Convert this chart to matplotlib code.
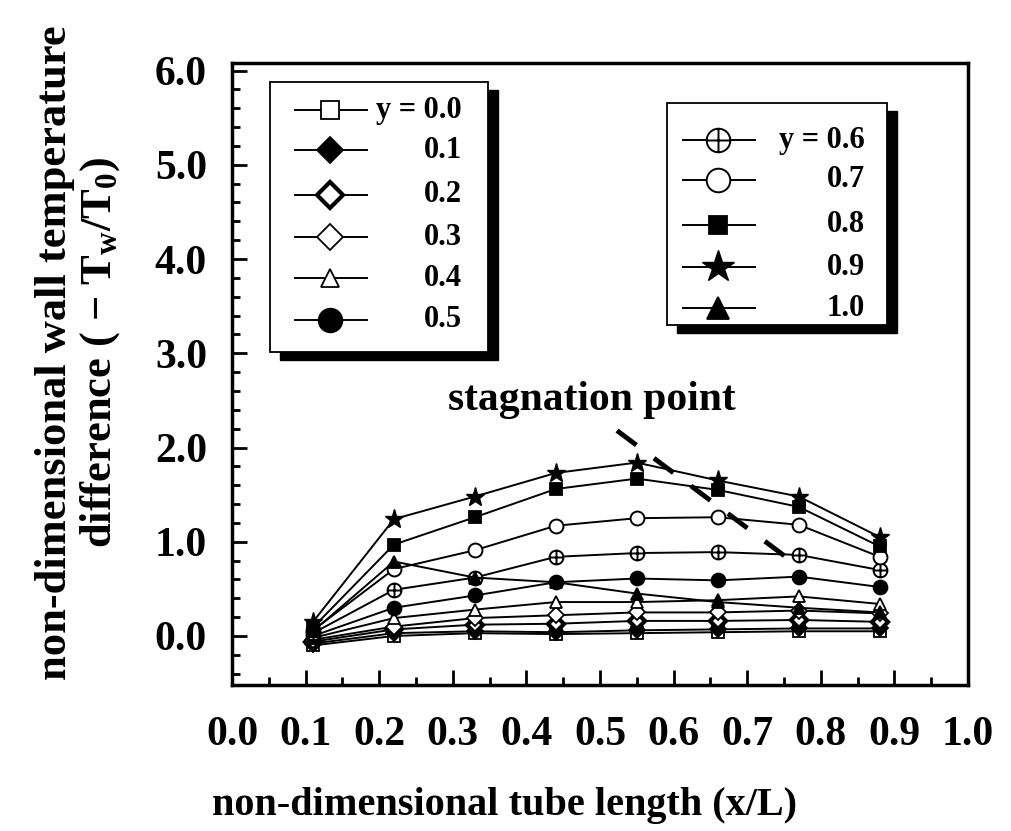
import matplotlib
matplotlib.use('Agg')
import matplotlib.pyplot as plt
from matplotlib.path import Path
from matplotlib.patches import Rectangle
from matplotlib.ticker import MultipleLocator, FormatStrFormatter

# DATA
#===========================================================================
# measuring stations along the tube (x/L)
x_pos = [0.11, 0.22, 0.33, 0.44, 0.55, 0.66, 0.77, 0.88]

# wall temperature difference (-Tw/T0) for each y position
t_y00 = [-0.10, 0.00, 0.03, 0.02, 0.03, 0.04, 0.05, 0.05]
t_y01 = [-0.08, 0.03, 0.05, 0.04, 0.06, 0.07, 0.08, 0.08]
t_y02 = [-0.06, 0.07, 0.12, 0.13, 0.16, 0.16, 0.17, 0.15]
t_y03 = [-0.04, 0.10, 0.19, 0.22, 0.25, 0.25, 0.27, 0.24]
t_y04 = [-0.02, 0.19, 0.28, 0.36, 0.36, 0.38, 0.42, 0.34]
t_y05 = [0.00, 0.30, 0.43, 0.57, 0.61, 0.59, 0.63, 0.52]
t_y06 = [0.03, 0.49, 0.62, 0.84, 0.88, 0.89, 0.86, 0.70]
t_y07 = [0.06, 0.71, 0.91, 1.17, 1.25, 1.26, 1.18, 0.84]
t_y08 = [0.09, 0.97, 1.26, 1.56, 1.67, 1.55, 1.37, 0.95]
t_y09 = [0.15, 1.24, 1.48, 1.73, 1.84, 1.65, 1.48, 1.05]
t_y10 = [0.05, 0.79, 0.62, 0.57, 0.45, 0.36, 0.30, 0.25]

labels_left = ['y = 0.0', '0.1', '0.2', '0.3', '0.4', '0.5']
labels_right = ['y = 0.6', '0.7', '0.8', '0.9', '1.0']

# stagnation point guide line (x/L, value)
stag_x = [0.523, 0.754]
stag_y = [2.18, 0.83]

# STYLE
#===========================================================================
plt.rcParams['font.family'] = 'Liberation Serif'
plt.rcParams['font.weight'] = 'bold'
plt.rcParams['mathtext.fontset'] = 'custom'
plt.rcParams['mathtext.rm'] = 'Liberation Serif:bold'
plt.rcParams['mathtext.it'] = 'Liberation Serif:bold'
plt.rcParams['mathtext.bf'] = 'Liberation Serif:bold'

# circle with a cross for y = 0.6
oplus = Path.make_compound_path(
    Path.unit_circle(),
    Path([[-1, 0], [1, 0], [0, -1], [0, 1]],
         [Path.MOVETO, Path.LINETO, Path.MOVETO, Path.LINETO]))

# marker, face colour, edge width, plot size
styles = [
    ('s', 'white', 1.3, 8),
    ('D', 'black', 1.3, 8),
    ('D', 'white', 3.0, 8),
    ('D', 'white', 1.3, 8),
    ('^', 'white', 1.3, 8),
    ('o', 'black', 1.3, 10),
    (oplus, 'white', 1.4, 10),
    ('o', 'white', 1.4, 10),
    ('s', 'black', 1.3, 8),
    ('*', 'black', 1.0, 14),
    ('^', 'black', 1.3, 9),
]
series = [t_y00, t_y01, t_y02, t_y03, t_y04, t_y05,
          t_y06, t_y07, t_y08, t_y09, t_y10]

# PLOT
#===========================================================================
fig = plt.figure(figsize=(10.11, 8.31), dpi=100)
ax = fig.add_axes([0.2295, 0.1757, 0.728, 0.7485])

for vals, (mk, fc, mew, ms) in zip(series, styles):
    ax.plot(x_pos, vals, color='black', lw=1.4, marker=mk, ms=ms,
            mfc=fc, mec='black', mew=mew, zorder=3)

# stagnation point
ax.plot(stag_x, stag_y, color='black', lw=3.5, dashes=(5, 4.5),
        solid_capstyle='butt', zorder=4)
ax.text(0.489, 2.50, 'stagnation point', fontsize=30, fontweight='bold',
        ha='center', va='center')

ax.set_xlim(0.0, 1.0)
ax.set_ylim(-0.52, 6.08)
ax.xaxis.set_major_locator(MultipleLocator(0.1))
ax.xaxis.set_minor_locator(MultipleLocator(0.05))
ax.yaxis.set_major_locator(MultipleLocator(1.0))
ax.yaxis.set_minor_locator(MultipleLocator(0.2))
ax.xaxis.set_major_formatter(FormatStrFormatter('%.1f'))
ax.yaxis.set_major_formatter(FormatStrFormatter('%.1f'))
ax.tick_params(which='both', direction='in', top=False, right=False,
               width=2.0, labelsize=30)
ax.tick_params(which='major', length=11)
ax.tick_params(which='minor', length=6)
ax.tick_params(axis='x', pad=22)
ax.tick_params(axis='y', pad=18)
for sp in ax.spines.values():
    sp.set_linewidth(2.5)

# LEGENDS
#===========================================================================
def draw_legend(box, rows, labels, styles_sub, hx, mx, tx):
    x0, y0, x1, y1 = box
    dx, dy = 10 / 736, 8 / 622
    ax.add_patch(Rectangle((x0 + dx, y0 - dy), x1 - x0, y1 - y0,
                           transform=ax.transAxes, facecolor='black',
                           edgecolor='black', zorder=5, clip_on=False))
    ax.add_patch(Rectangle((x0, y0), x1 - x0, y1 - y0,
                           transform=ax.transAxes, facecolor='white',
                           edgecolor='black', lw=1.3, zorder=6, clip_on=False))
    for yy, lab, (mk, fc, mew, ms) in zip(rows, labels, styles_sub):
        ax.plot(hx, [yy, yy], color='black', lw=1.4,
                transform=ax.transAxes, zorder=7, clip_on=False)
        ax.plot([mx], [yy], marker=mk, ms=ms * 1.7, mfc=fc, mec='black',
                mew=mew, transform=ax.transAxes, zorder=8, clip_on=False)
        ax.text(tx, yy, lab, fontsize=22, fontweight='bold', ha='right',
                va='center', transform=ax.transAxes, zorder=8)

draw_legend((0.0516, 0.535, 0.348, 0.969),
            [0.924, 0.860, 0.788, 0.720, 0.654, 0.587],
            labels_left, styles[:6], [0.0856, 0.183], 0.133, 0.3125)
draw_legend((0.591, 0.579, 0.890, 0.936),
            [0.876, 0.812, 0.740, 0.672, 0.606],
            labels_right, styles[6:], [0.613, 0.711], 0.660, 0.860)

# AXIS LABELS
#===========================================================================
fig.text(0.4995, 0.031, 'non-dimensional tube length (x/L)',
         fontsize=29, fontweight='bold', ha='center', va='center')
fig.text(0.0775, 0.576,
         'non-dimensional wall temperature\n'
         'difference ( $-$ $\\mathregular{T_w/T_0}$)',
         fontsize=32, fontweight='bold', rotation=90, ha='center',
         va='center', multialignment='center', linespacing=1.1)

plt.savefig('out.png', dpi=100)
